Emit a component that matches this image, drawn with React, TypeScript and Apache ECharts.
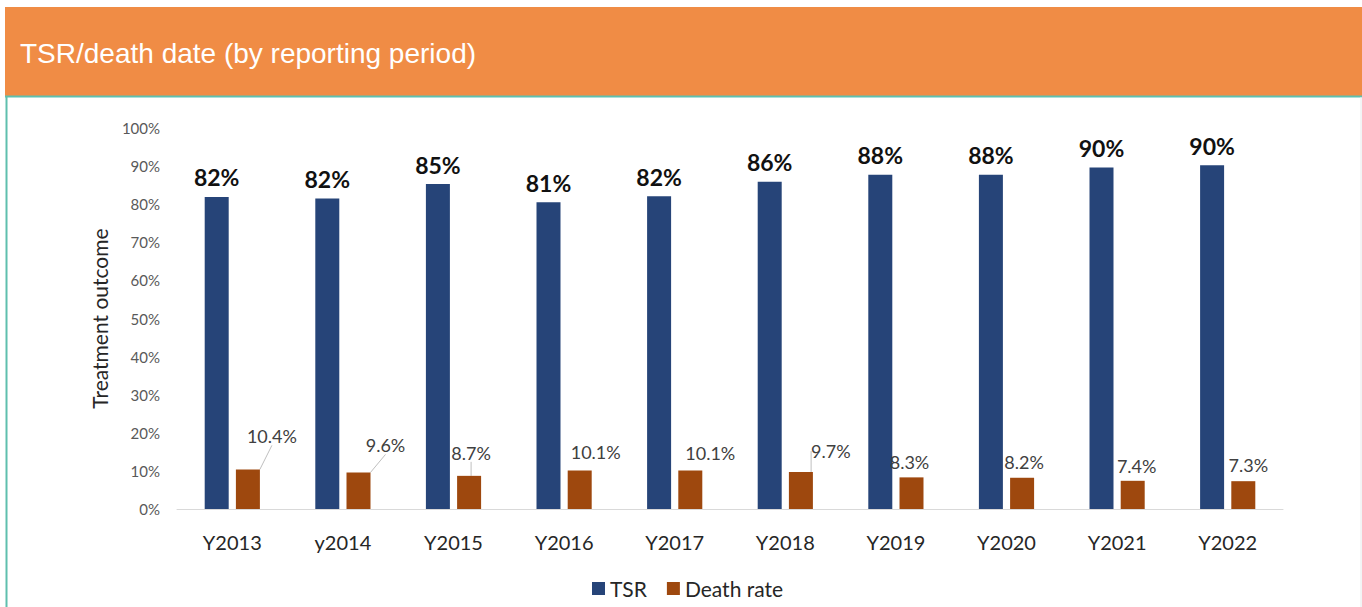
import React, { useEffect, useRef } from "react";
import * as echarts from "echarts";

const categories = ["Y2013", "y2014", "Y2015", "Y2016", "Y2017", "Y2018", "Y2019", "Y2020", "Y2021", "Y2022"];
const tsr = [81.9, 81.5, 85.3, 80.5, 82.1, 85.9, 87.7, 87.7, 89.6, 90.2];
const deathRate = [10.4, 9.6, 8.7, 10.1, 10.1, 9.7, 8.3, 8.2, 7.4, 7.3];
const yTicks = [0, 10, 20, 30, 40, 50, 60, 70, 80, 90, 100];

// label nudges (layout only)
const deathLabelShift: [number, number][] = [
  [24, -20], [27, -14], [2, -10], [16, -6], [20, -5], [30, -8], [-2, -2], [2, -3], [4, -2], [5, -3],
];
const deathLeader = [true, true, true, false, false, true, false, false, false, false];

const FONT = "Lato, 'Open Sans', sans-serif";

export default function App() {
  const ref = useRef<HTMLDivElement>(null);
  useEffect(() => {
    if (!ref.current) return;
    const chart = echarts.init(ref.current, undefined, { renderer: "svg" });
    chart.setOption({
      animation: false,
      backgroundColor: "#ffffff",
      textStyle: { fontFamily: FONT },
      graphic: [
        { type: "rect", shape: { x: 5, y: 7, width: 1357, height: 89 }, style: { fill: "#F08C45" }, z: 0 },
        { type: "line", shape: { x1: 5, y1: 96.5, x2: 1362, y2: 96.5 }, style: { stroke: "#5FBFAE", lineWidth: 2 } },
        { type: "line", shape: { x1: 6.5, y1: 96, x2: 6.5, y2: 607 }, style: { stroke: "#5FBFAE", lineWidth: 2 } },
        { type: "line", shape: { x1: 1361, y1: 97, x2: 1361, y2: 607 }, style: { stroke: "#e6ecec", lineWidth: 1 } },
        {
          type: "text",
          x: 20,
          y: 53,
          style: {
            text: "TSR/death date (by reporting period)",
            fill: "#ffffff",
            fontSize: 28,
            fontFamily: "'Liberation Sans', Arial, sans-serif",
            textVerticalAlign: "middle",
          },
        },
      ],
      grid: { left: 177, right: 79, top: 128, bottom: 98 },
      legend: {
        data: ["TSR", "Death rate"],
        left: 592,
        top: 578,
        padding: 0,
        icon: "rect",
        itemWidth: 13,
        itemHeight: 13,
        itemGap: 20,
        textStyle: { fontSize: 21, color: "#262626", fontFamily: FONT },
      },
      xAxis: {
        type: "category",
        data: categories,
        axisLine: { lineStyle: { color: "#d9d9d9", width: 1 } },
        axisTick: { show: false },
        axisLabel: { fontSize: 20, color: "#262626", margin: 23, fontFamily: FONT },
      },
      yAxis: {
        type: "value",
        min: yTicks[0],
        max: yTicks[yTicks.length - 1],
        interval: 10,
        splitLine: { show: false },
        axisLine: { show: false },
        axisTick: { show: false },
        axisLabel: { formatter: "{value}%", fontSize: 15, color: "#595959", margin: 17, fontFamily: FONT },
        name: "Treatment outcome",
        nameLocation: "middle",
        nameGap: 67,
        nameTextStyle: { fontSize: 21, color: "#262626", fontFamily: FONT },
      },
      series: [
        {
          name: "TSR",
          type: "bar",
          data: tsr,
          barWidth: 24,
          barGap: "30%",
          itemStyle: { color: "#264478" },
          label: {
            show: true,
            position: "top",
            distance: 8,
            fontSize: 23,
            fontWeight: "bold",
            color: "#111111",
            fontFamily: FONT,
            formatter: (p: any) => Math.round(p.value) + "%",
          },
        },
        {
          name: "Death rate",
          type: "bar",
          data: deathRate.map((v, i) => ({ value: v, labelLine: { show: deathLeader[i] } })),
          barWidth: 24,
          itemStyle: { color: "#9E480E" },
          label: {
            show: true,
            position: "top",
            distance: 4,
            fontSize: 18,
            color: "#404040",
            fontFamily: FONT,
            formatter: (p: any) => Number(p.value).toFixed(1) + "%",
          },
          labelLine: { show: false, lineStyle: { color: "#bfbfbf", width: 1 } },
          labelLayout: (p: any) => ({ dx: deathLabelShift[p.dataIndex][0], dy: deathLabelShift[p.dataIndex][1] }),
        },
      ],
    });
    return () => chart.dispose();
  }, []);
  return (
    <div
      ref={ref}
      style={{ position: "absolute", left: 0, top: 0, width: 1362, height: 607 }}
    />
  );
}
